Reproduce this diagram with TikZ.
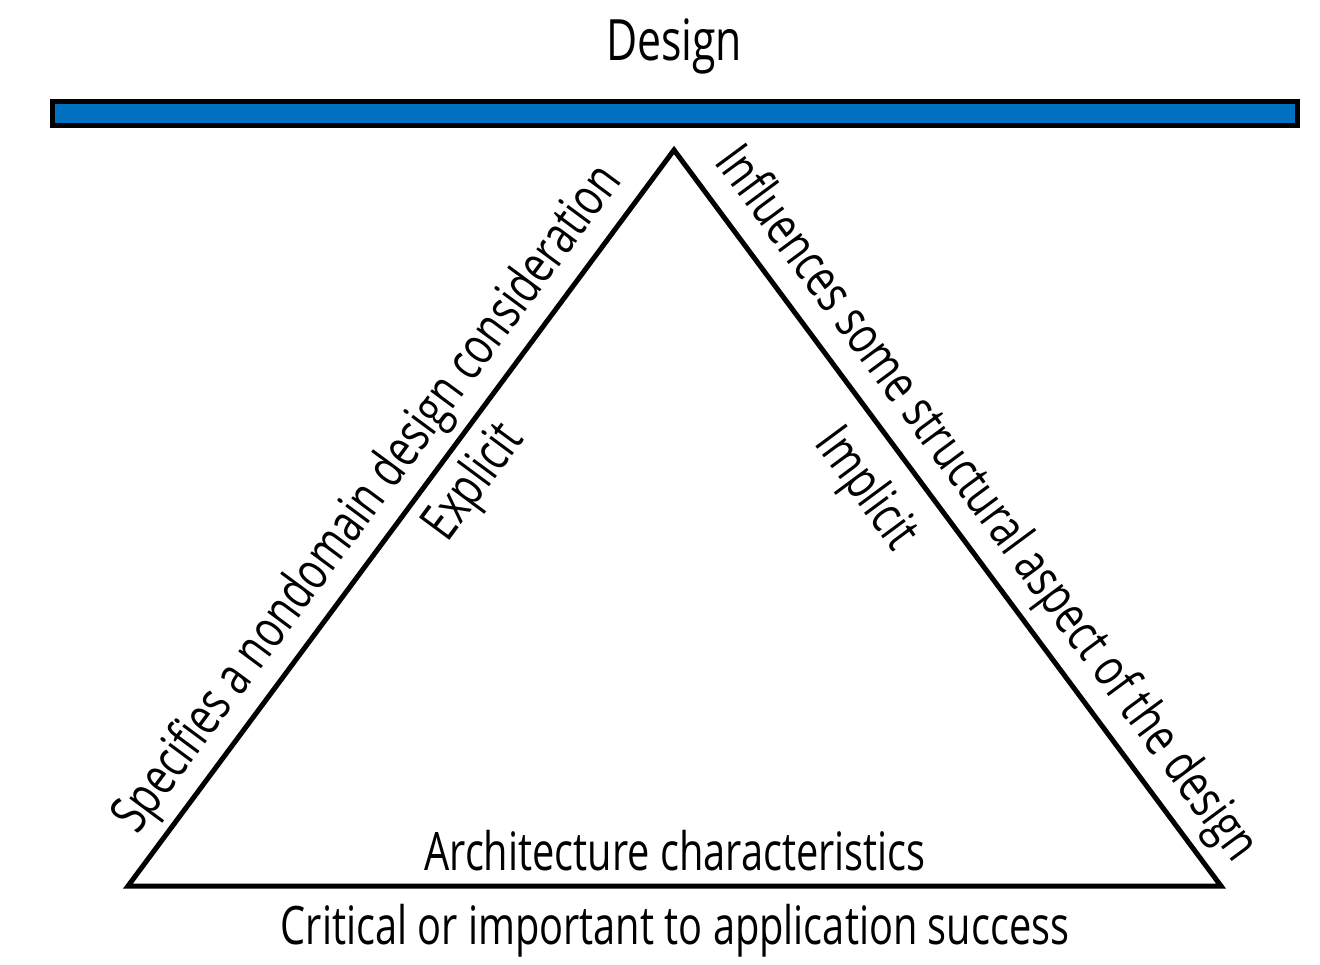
\documentclass[tikz,border=0pt]{standalone}
\usepackage{fontspec}
\setmainfont{Open Sans}[FakeStretch=0.75]
\begin{document}
\begin{tikzpicture}[x=0.5pt,y=-0.5pt,
  lbl/.style={inner sep=0pt, font=\fontsize{26.5}{30}\selectfont},
  edge/.style={line width=2.5pt, line join=miter},
  bar/.style={draw=black, line width=2.5pt, fill=barblue}]
\definecolor{barblue}{HTML}{0070C0}
\useasboundingbox (0,0) rectangle (1320,964);
\node[lbl, font=\fontsize{28.5}{32}\selectfont] (design) at (674,46) {Design};
\draw[bar] (52,101) rectangle (1297,125);
\coordinate (apex) at (674,150);
\coordinate (bl) at (128,886);
\coordinate (br) at (1221,886);
\draw[edge] (apex) -- (br) -- (bl) -- cycle;
\node[lbl] (arch) at (675,851) {Architecture characteristics};
\node[lbl] (crit) at (675,931) {Critical or important to application success};
\node[lbl, rotate=53.5] (spec) at (369,500) {Specifies a nondomain design consideration};
\node[lbl, rotate=53.5] (expl) at (475,483) {Explicit};
\node[lbl, rotate=-53.5] (infl) at (985,505) {Influences some structural aspect of the design};
\node[lbl, rotate=-53.5] (impl) at (865,490) {Implicit};
\end{tikzpicture}
\end{document}
